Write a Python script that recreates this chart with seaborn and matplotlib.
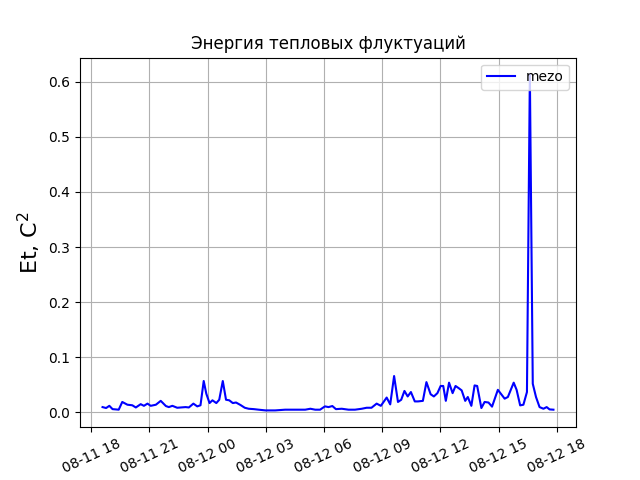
import pandas as pd
import matplotlib
matplotlib.use('Agg')
import matplotlib.pyplot as plt
import matplotlib.dates as mdates
import seaborn as sns

# minutes after 2021-08-11 18:00
minutes = [35, 46, 56, 66, 85, 96, 112, 127, 138, 153, 163, 174, 184, 200, 215, 231, 240, 251, 266, 292,
           302, 316, 328, 338, 348, 356, 366, 375, 387, 396, 407, 417, 427, 438, 448, 462, 475, 487, 503, 518,
           539, 569, 600, 631, 662, 678, 693, 708, 723, 734, 746, 757, 775, 796, 816, 837, 852, 867, 883, 896,
           914, 925, 937, 949, 959, 969, 979, 989, 1001, 1011, 1026, 1037, 1050, 1060, 1071, 1081, 1089, 1097,
           1107, 1118, 1127, 1137, 1146, 1157, 1165, 1176, 1186, 1194, 1207, 1217, 1229, 1240, 1258, 1279,
           1289, 1307, 1316, 1327, 1337, 1348, 1357, 1366, 1376, 1387, 1399, 1409, 1418, 1430]
et = [0.0097, 0.008, 0.012, 0.006, 0.005, 0.019, 0.014, 0.013, 0.009, 0.015, 0.012, 0.016, 0.012, 0.014,
      0.021, 0.0116, 0.0097, 0.012, 0.0085, 0.0097, 0.009, 0.016, 0.011, 0.013, 0.057, 0.034, 0.017, 0.022,
      0.017, 0.023, 0.057, 0.023, 0.022, 0.017, 0.018, 0.0134, 0.0085, 0.0067, 0.006, 0.005, 0.0037, 0.0037,
      0.005, 0.005, 0.005, 0.0067, 0.005, 0.005, 0.011, 0.0097, 0.0116, 0.006, 0.0067, 0.005, 0.005, 0.0067,
      0.0085, 0.0085, 0.016, 0.012, 0.027, 0.0146, 0.066, 0.019, 0.023, 0.039, 0.029, 0.037, 0.020, 0.020,
      0.021, 0.055, 0.033, 0.029, 0.035, 0.048, 0.048, 0.021, 0.054, 0.035, 0.048, 0.044, 0.040, 0.021,
      0.028, 0.012, 0.049, 0.048, 0.008, 0.019, 0.018, 0.0105, 0.041, 0.025, 0.028, 0.054, 0.041, 0.0128,
      0.014, 0.037, 0.613, 0.052, 0.028, 0.0097, 0.0067, 0.0097, 0.0055, 0.005]

df = pd.DataFrame({'time': pd.Timestamp('2021-08-11 18:00') + pd.to_timedelta(minutes, unit='m'),
                   'Et': et})

fig, ax = plt.subplots(figsize=(6.4, 4.8), dpi=100)
sns.lineplot(data=df, x='time', y='Et', color='blue', label='mezo', ax=ax)
ax.set_title('Энергия тепловых флуктуаций')
ax.set_xlabel('')
ax.set_ylabel('Et, C$^2$', fontsize=16)
ax.xaxis.set_major_locator(mdates.HourLocator(byhour=range(0, 24, 3)))
ax.xaxis.set_major_formatter(mdates.DateFormatter('%m-%d %H'))
plt.xticks(rotation=25)
ax.grid(True)
ax.legend(loc='upper right')
plt.savefig('out.png')
plt.close()
